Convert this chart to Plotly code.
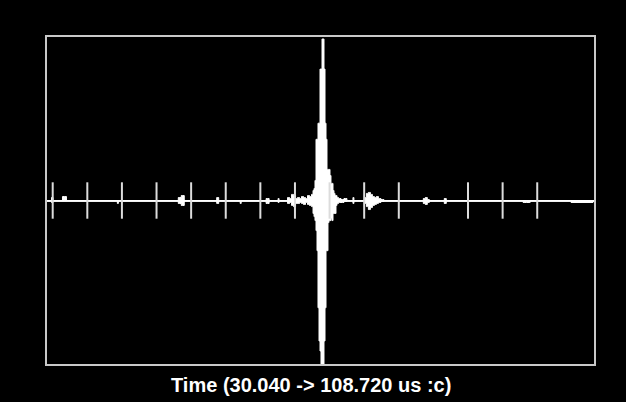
import plotly.graph_objects as go

# Time axis limits (microseconds)
t_start = 30.040
t_end = 108.720

# Waveform envelope samples: time (us), upper peak and lower peak (% of full scale)
wave_t = [30.04, 30.76, 30.90, 31.18, 32.33, 32.47, 32.90, 33.04, 40.19, 40.34, 40.48,
          48.79, 49.21, 49.64, 50.07, 54.36, 54.65, 54.93, 57.80, 57.94, 58.08,
          61.37, 61.80, 62.23, 63.23, 63.37, 63.51, 64.52, 64.80, 65.09, 65.37, 65.66,
          65.95, 66.23, 66.52, 66.80, 67.09, 67.38, 67.66, 67.95, 68.24, 68.38, 68.52,
          68.66, 68.81, 68.95, 69.09, 69.24, 69.38, 69.52, 69.67, 69.81, 69.95, 70.10,
          70.24, 70.38, 70.52, 70.67, 70.81, 70.95, 71.10, 71.24, 71.38, 71.53, 71.67,
          71.81, 72.10, 72.53, 72.95, 73.38, 73.96, 74.10, 74.24, 75.53, 75.82, 76.10,
          76.39, 76.67, 76.96, 77.25, 77.53, 77.82, 78.25, 78.68, 83.97, 84.26, 84.54,
          84.83, 85.11, 86.98, 87.26, 87.55, 98.28, 98.56, 99.28, 99.57, 105.15, 105.43,
          108.29, 108.58, 108.72]
wave_hi = [0, 0, 1.8, 0, 0, 2.4, 2.4, 0, 0, 0, 0,
           0, 1.8, 3.0, 0, 0, 1.8, 0, 0, 0, 0,
           0, 1.2, 0, 0, 1.2, 0, 0, 1.8, 1.2, 3.7, 3.0,
           1.2, 1.8, 1.2, 2.4, 1.8, 1.2, 3.0, 2.4, 3.7, 6.1, 7.3,
           12.2, 37.2, 37.2, 47.0, 47.0, 79.9, 79.9, 98.2, 98.2, 79.9, 47.0,
           37.2, 18.9, 18.9, 18.9, 15.2, 10.4, 10.4, 6.1, 4.3, 3.0, 3.0,
           1.8, 1.2, 0.6, 1.2, 0, 0, 1.8, 0, 0, 1.8, 4.3,
           4.9, 3.7, 2.4, 1.8, 2.4, 1.2, 0.6, 0, 0, 1.2, 1.8,
           0.6, 0, 0, 1.2, 0, 0, 0, 0, 0, 0, 0,
           0, 0, 0]
wave_lo = [0, 0, -1.2, 0, 0, 0, 0, 0, 0, -1.8, 0,
           0, -1.8, -3.0, 0, 0, -1.8, 0, 0, -1.8, 0,
           0, -1.8, 0, 0, -1.2, 0, 0, -1.8, -1.2, -3.0, -3.7,
           -1.8, -1.8, -1.2, -1.8, -2.4, -1.2, -2.4, -3.0, -3.7, -7.9, -9.8,
           -12.2, -18.3, -30.5, -65.2, -85.4, -91.5, -100, -100, -100, -85.4, -65.2,
           -30.5, -30.5, -13.4, -12.2, -12.2, -11.0, -12.2, -7.9, -7.9, -7.9, -3.0,
           -1.8, -1.2, -1.2, -0.6, 0, 0, -1.8, 0, 0, -1.8, -3.7,
           -5.5, -4.3, -3.0, -2.4, -1.8, -1.2, -0.6, 0, 0, -1.8, -2.4,
           -1.2, 0, 0, -1.8, 0, 0, -1.2, -1.2, 0, 0, -1.2,
           -1.2, 0, 0]

# Division tick marks along the centre line (us)
tick_t = [31.0, 35.96, 40.92, 45.88, 50.84, 55.80, 60.76, 65.72, 70.68, 75.64,
          80.60, 90.52, 95.48, 100.44]
tick_y = [0] * len(tick_t)

x_label = "Time (30.040 -> 108.720 us :c)"

fig = go.Figure()
fig.add_trace(go.Scatter(x=wave_t, y=wave_lo, mode="lines", line=dict(color="white", width=1, shape="hvh"),
                         hoverinfo="skip", showlegend=False))
fig.add_trace(go.Scatter(x=wave_t, y=wave_hi, mode="lines", line=dict(color="white", width=1, shape="hvh"),
                         fill="tonexty", fillcolor="white", hoverinfo="skip", showlegend=False))
fig.add_trace(go.Scatter(x=tick_t, y=tick_y, mode="markers",
                         marker=dict(symbol="line-ns", size=26, color="#dcdcdc",
                                     line=dict(color="#dcdcdc", width=2)),
                         hoverinfo="skip", showlegend=False))

fig.update_layout(
    width=626, height=402,
    margin=dict(l=46, r=31, t=36, b=37),
    paper_bgcolor="black", plot_bgcolor="black",
    xaxis=dict(range=[t_start, t_end], showgrid=False, zeroline=False, showticklabels=False,
               ticks="", showline=False),
    yaxis=dict(range=[-100, 100], showgrid=False, zeroline=True, zerolinecolor="#f0f0f0",
               zerolinewidth=2, showticklabels=False, ticks="", showline=False),
    shapes=[dict(type="rect", xref="paper", yref="paper", x0=0, x1=1, y0=0, y1=1,
                 line=dict(color="#c8c8c8", width=2), layer="above")],
    annotations=[dict(text=x_label, xref="paper", yref="paper", x=0.4836, y=-0.061,
                      xanchor="center", yanchor="middle", showarrow=False,
                      font=dict(family="Liberation Sans", size=20, color="white", weight="bold"))],
)

fig.write_html("out.html", config={"displayModeBar": False, "staticPlot": True},
               post_script="document.body.style.margin='0';document.body.style.background='black';"
                           "document.body.style.overflow='hidden';")
